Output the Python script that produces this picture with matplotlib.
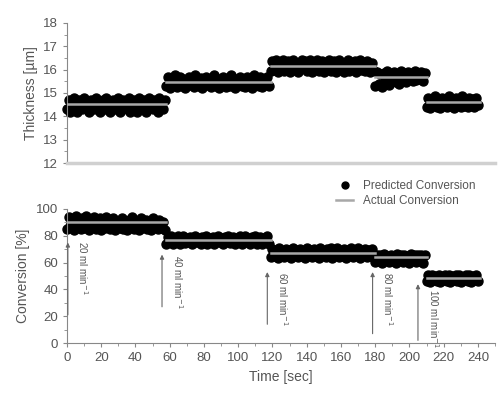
import numpy as np
import matplotlib.pyplot as plt
from matplotlib.lines import Line2D
from matplotlib.ticker import MultipleLocator

plt.rcParams['font.family'] = ['Liberation Sans', 'DejaVu Sans']

# step segments: start/end time [sec]
seg_start = [0, 58, 119, 180, 210]
seg_end = [58, 119, 180, 210, 241]

# actual values per segment
thick_actual = [14.55, 15.45, 16.15, 15.7, 14.6]
conv_actual = [90, 77, 67, 64, 48.5]

# predicted values, one per second within each segment
thick_pred = [
    [14.3, 14.7, 14.2, 14.6, 14.8, 14.4, 14.2, 14.7, 14.5, 14.3, 14.8, 14.4, 14.6, 14.2, 14.7, 14.5,
     14.3, 14.8, 14.6, 14.2, 14.4, 14.7, 14.3, 14.8, 14.5, 14.2, 14.6, 14.7, 14.3, 14.5, 14.8, 14.2,
     14.4, 14.7, 14.6, 14.3, 14.8, 14.2, 14.5, 14.7, 14.4, 14.2, 14.8, 14.6, 14.3, 14.7, 14.2, 14.5,
     14.8, 14.4, 14.3, 14.7, 14.6, 14.2, 14.8, 14.4, 14.3, 14.7],
    [15.3, 15.7, 15.2, 15.6, 15.4, 15.75, 15.25, 15.5, 15.7, 15.3, 15.6, 15.2, 15.45, 15.7, 15.35, 15.6,
     15.25, 15.75, 15.4, 15.3, 15.65, 15.2, 15.5, 15.7, 15.35, 15.6, 15.25, 15.45, 15.75, 15.3, 15.6,
     15.2, 15.55, 15.7, 15.4, 15.25, 15.65, 15.3, 15.75, 15.45, 15.2, 15.6, 15.35, 15.7, 15.3, 15.5,
     15.25, 15.7, 15.4, 15.6, 15.2, 15.75, 15.35, 15.55, 15.3, 15.7, 15.25, 15.6, 15.4, 15.7, 15.3],
    [15.95, 16.35, 16.0, 16.4, 15.9, 16.3, 16.1, 16.4, 15.95, 16.25, 16.35, 15.9, 16.2, 16.4, 16.0, 16.3,
     15.9, 16.15, 16.4, 16.05, 16.35, 15.95, 16.25, 16.4, 15.9, 16.3, 16.1, 16.4, 15.95, 16.2, 16.35,
     15.9, 16.3, 16.05, 16.4, 15.95, 16.25, 16.35, 15.9, 16.15, 16.4, 16.0, 16.3, 15.9, 16.2, 16.4,
     15.95, 16.3, 16.05, 16.35, 15.9, 16.25, 16.4, 16.0, 16.3, 15.95, 16.35, 16.1, 15.9, 16.3, 16.0],
    [15.3, 15.9, 15.4, 15.8, 15.25, 15.85, 15.5, 15.95, 15.35, 15.75, 15.6, 15.9, 15.45, 15.8, 15.4,
     15.95, 15.55, 15.85, 15.45, 15.9, 15.6, 15.8, 15.5, 15.95, 15.55, 15.85, 15.6, 15.9, 15.5, 15.85],
    [14.4, 14.8, 14.35, 14.75, 14.5, 14.85, 14.4, 14.7, 14.35, 14.8, 14.55, 14.75, 14.4, 14.85, 14.45,
     14.7, 14.35, 14.8, 14.5, 14.75, 14.4, 14.85, 14.45, 14.7, 14.4, 14.8, 14.5, 14.75, 14.4, 14.8, 14.5],
]

conv_pred = [
    [85, 94, 87, 92, 84, 95, 88, 91, 85, 93, 86, 95, 89, 84, 92, 87, 94, 85, 90, 93, 84, 91, 86, 94,
     88, 85, 92, 93, 84, 89, 91, 86, 93, 85, 90, 84, 92, 87, 94, 85, 89, 91, 84, 93, 86, 88, 92, 85,
     90, 84, 93, 87, 89, 85, 92, 86, 90, 84],
    [74, 79, 75, 80, 73.5, 78, 76, 79.5, 74, 77, 80, 74.5, 78, 75, 79, 73.5, 77.5, 80, 75, 78.5, 74, 79,
     76, 80, 73.5, 78, 75.5, 79, 74, 77, 80, 75, 78.5, 73.5, 79, 76, 80, 74.5, 77.5, 79, 73.5, 78, 75,
     79.5, 74, 77, 80, 75, 78.5, 73.5, 79, 76, 80, 74, 77.5, 79, 73.5, 78, 75, 79.5, 74],
    [64, 70, 65, 69, 63.5, 70.5, 66, 68.5, 64, 70, 65.5, 69, 63.5, 70.5, 66, 69, 64.5, 70, 65, 68, 63.5,
     70.5, 66.5, 69, 64, 70, 65, 69.5, 63.5, 70.5, 66, 68.5, 64, 70, 65.5, 71, 63.5, 69, 66, 70.5, 64.5,
     68, 65, 70, 63.5, 69.5, 66, 70.5, 64, 69, 65.5, 71, 63.5, 68.5, 66, 70, 64, 69.5, 65, 70, 64],
    [60.5, 66, 61, 65.5, 60, 66.5, 62, 65, 60.5, 66, 61.5, 64.5, 60, 66.5, 62, 65.5, 60.5, 66, 61, 65,
     60, 66.5, 62.5, 65.5, 60.5, 66, 61, 65.5, 60, 66],
    [46, 50.5, 45.5, 51, 47, 50, 46, 51, 45.5, 49.5, 47, 51, 46, 50.5, 45.5, 50, 47, 51, 46, 50.5, 45.5,
     49.5, 47, 51, 46, 50.5, 45.5, 50, 47, 51, 46],
]

# flow-rate arrows: time, tail, head, label and label top
arrow_t = [0.5, 55.5, 117, 178.5, 205]
arrow_tail = [19, 25, 12, 5, 0]
arrow_head = [77, 68, 55, 55, 46]
label_top = [76, 66, 53, 53, 40]
flow_labels = ['20 ml min$^{-1}$', '40 ml min$^{-1}$', '60 ml min$^{-1}$',
               '80 ml min$^{-1}$', '100 ml min$^{-1}$']

txt = '#555555'
spine = '#888888'

fig = plt.figure(figsize=(5, 3.94), dpi=100)
ax1 = fig.add_axes([0.134, 0.586, 0.856, 0.356])
ax2 = fig.add_axes([0.134, 0.129, 0.856, 0.341])


def draw(ax, pred, actual):
    for s, e, vals, a in zip(seg_start, seg_end, pred, actual):
        t = s + np.arange(len(vals))
        ax.plot(t, vals, 'o', color='black', ms=6.5, mec='black', clip_on=False, zorder=2)
        ax.plot([s, e], [a, a], color='#a8a8a8', lw=1.8, zorder=3)


draw(ax1, thick_pred, thick_actual)
draw(ax2, conv_pred, conv_actual)

for ax in (ax1, ax2):
    ax.set_xlim(0, 250)
    ax.spines['top'].set_visible(False)
    ax.spines['right'].set_visible(False)
    ax.spines['left'].set_color(spine)
    ax.tick_params(colors=spine, labelcolor=txt, labelsize=9.5, length=3)
    ax.tick_params(which='minor', colors=spine, length=2)

ax1.set_ylim(12, 18)
ax1.yaxis.set_major_locator(MultipleLocator(1))
ax1.yaxis.set_minor_locator(MultipleLocator(0.5))
ax1.set_xticks([])
ax1.spines['bottom'].set_color('#d0d0d0')
ax1.spines['bottom'].set_linewidth(2.5)
ax1.set_ylabel('Thickness [µm]', color=txt, fontsize=10)

ax2.set_ylim(0, 100)
ax2.set_xticks(np.arange(0, 241, 20))
ax2.xaxis.set_minor_locator(MultipleLocator(10))
ax2.yaxis.set_major_locator(MultipleLocator(20))
ax2.yaxis.set_minor_locator(MultipleLocator(10))
ax2.spines['bottom'].set_color(spine)
ax2.set_xlabel('Time [sec]', color=txt, fontsize=10)
ax2.set_ylabel('Conversion [%]', color=txt, fontsize=10)

for t, y0, y1, yl, lab in zip(arrow_t, arrow_tail, arrow_head, label_top, flow_labels):
    ax2.annotate('', xy=(t, y1), xytext=(t, y0),
                 arrowprops=dict(arrowstyle='-|>', color='#666666', lw=0.8, mutation_scale=6))
    ax2.text(t + 5, yl, lab, rotation=270, va='top', ha='left', fontsize=7, color=txt)

handles = [Line2D([], [], marker='o', ls='none', color='black', ms=5),
           Line2D([], [], color='#a8a8a8', lw=1.8)]
fig.legend(handles, ['Predicted Conversion', 'Actual Conversion'], loc='upper left',
           bbox_to_anchor=(0.655, 0.565), frameon=False, fontsize=8.5, labelcolor=txt,
           handlelength=1.5, handletextpad=0.8, borderpad=0.2, labelspacing=0.3)

fig.savefig('out.png', dpi=100)
